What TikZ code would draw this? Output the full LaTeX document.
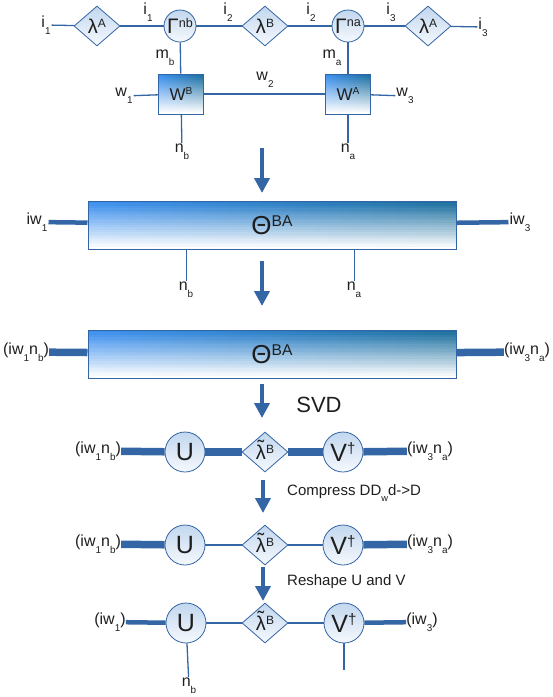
\documentclass[tikz,border=0pt]{standalone}
\usepackage{fontspec}
\setmainfont{Liberation Sans}
\usepackage{graphicx}
\usepackage{tikz}
\usetikzlibrary{arrows.meta,shapes.geometric,calc}
\definecolor{lineblue}{HTML}{3465A4}
\definecolor{boxl}{HTML}{3B8FF0}
\definecolor{boxr}{HTML}{1A6E9C}
\definecolor{nodetop}{HTML}{C2D7EE}
\definecolor{nodebot}{HTML}{F6F9FD}
\definecolor{txt}{HTML}{1E1E1E}
\newcommand\sub[1]{\raisebox{-0.42em}{\scalebox{0.62}{#1}}}
\newcommand\supr[1]{\raisebox{0.3em}{\scalebox{0.6}{#1}}}
\newcommand\tlam{\ooalign{λ\cr\hidewidth\raisebox{0.22em}{\char"02DC}\hidewidth\cr}}
\tikzset{
  wire/.style={draw=lineblue, line width=1.3pt},
  bond/.style={draw=lineblue, line width=4.5pt},
  fatbond/.style={draw=lineblue, line width=7.5pt},
  bigarr/.style={-{Triangle[width=15pt,length=15pt]}, draw=lineblue, line width=4pt},
  lbl/.style={text=txt, font=\fontsize{16}{18}\selectfont, inner sep=1pt},
  note/.style={text=txt, font=\fontsize{15}{18}\selectfont, inner sep=0pt, anchor=west},
  diam/.style={diamond, draw=lineblue, line width=0.8pt, top color=nodetop,
               bottom color=nodebot, minimum width=46pt, minimum height=40pt,
               aspect=1.15, inner sep=0pt, text=txt, font=\fontsize{20}{20}\selectfont},
  circ/.style={circle, draw=lineblue, line width=0.8pt, top color=nodetop,
               bottom color=nodebot, minimum size=32pt, inner sep=0pt,
               text=txt, font=\fontsize{21}{21}\selectfont},
  bigcirc/.style={circ, minimum size=40pt, font=\fontsize{25}{25}\selectfont},
  % blue left to teal right, washed out to white towards the bottom
  gradbox/.style={draw=lineblue, line width=1pt, left color=boxl, right color=boxr,
                  inner sep=0pt, text=txt,
                  path picture={
                    \foreach \k [evaluate=\k as \op using \k/19] in {0,...,19}
                      \fill[white, fill opacity=\op]
                        ($(path picture bounding box.north west)!\k/20!(path picture bounding box.south west)$)
                        rectangle
                        ($(path picture bounding box.north east)!{(\k+1)/20}!(path picture bounding box.south east)$);
                  }},
  wbox/.style={gradbox, minimum width=45pt, minimum height=40pt,
               font=\fontsize{17}{17}\selectfont},
  thetabox/.style={gradbox, minimum width=368pt, minimum height=48pt,
                   font=\fontsize{26}{26}\selectfont},
}
\begin{document}
\begin{tikzpicture}[x=1pt,y=-1pt]
\useasboundingbox (0,0) rectangle (553,697);
% MPS with the MPO on top
\node[lbl] (i1a) at (46,25) {i\sub{1}};
\node[diam] (lamA) at (97,26) {λ\supr{A}};
\node[lbl] (i1b) at (148,12) {i\sub{1}};
\node[circ] (gamB) at (180,26) {Γ\supr{nb}};
\node[lbl] (i2a) at (228,12) {i\sub{2}};
\node[diam] (lamB) at (265,26) {λ\supr{B}};
\node[lbl] (i2b) at (311,12) {i\sub{2}};
\node[circ] (gamA) at (348,26) {Γ\supr{na}};
\node[lbl] (i3a) at (391,12) {i\sub{3}};
\node[diam] (lamA2) at (428,26) {λ\supr{A}};
\node[lbl] (i3b) at (483,27) {i\sub{3}};
\draw[wire] (i1a) -- (lamA);
\draw[wire] (lamA) -- (gamB);
\draw[wire] (gamB) -- (lamB);
\draw[wire] (lamB) -- (gamA);
\draw[wire] (gamA) -- (lamA2);
\draw[wire] (lamA2) -- (i3b);
\node[wbox] (WB) at (181,94) {W\supr{B}};
\node[wbox] (WA) at (348,94) {W\supr{A}};
\node[lbl] (mb) at (165,58) {m\sub{b}};
\node[lbl] (ma) at (332,58) {m\sub{a}};
\node[lbl] (w1) at (124,96) {w\sub{1}};
\node[lbl] (w2) at (265,80) {w\sub{2}};
\node[lbl] (w3) at (405,96) {w\sub{3}};
\node[lbl] (nb1) at (182,152) {n\sub{b}};
\node[lbl] (na1) at (348,152) {n\sub{a}};
\draw[wire] (gamB) -- (WB);
\draw[wire] (gamA) -- (WA);
\draw[wire] (w1) -- (WB);
\draw[wire] (WB) -- (WA);
\draw[wire] (WA) -- (w3);
\draw[wire] (WB) -- (nb1);
\draw[wire] (WA) -- (na1);
\coordinate (a1s) at (262,148);
\coordinate (a1e) at (262,193);
\draw[bigarr] (a1s) -- (a1e);
% contracted two-site tensor
\node[thetabox] (theta1) at (272,225) {Θ\supr{BA}};
\node[lbl] (iw1) at (37,222) {iw\sub{1}};
\node[lbl] (iw3) at (520,222) {iw\sub{3}};
\node[lbl] (nb2) at (186,290) {n\sub{b}};
\node[lbl] (na2) at (354,290) {n\sub{a}};
\draw[bond] (iw1) -- (theta1);
\draw[bond] (theta1) -- (iw3);
\draw[wire, line width=0.9pt] (nb2) -- (nb2 |- theta1.south);
\draw[wire, line width=0.9pt] (na2) -- (na2 |- theta1.south);
\coordinate (a2s) at (262,261);
\coordinate (a2e) at (262,306);
\draw[bigarr] (a2s) -- (a2e);
% reshaped into a matrix
\node[thetabox] (theta2) at (272,354) {Θ\supr{BA}};
\node[lbl, inner sep=0pt] (L2) at (26,352) {(iw\sub{1}n\sub{b})};
\node[lbl, inner sep=0pt] (R2) at (527,352) {(iw\sub{3}n\sub{a})};
\draw[fatbond] (L2) -- (theta2);
\draw[fatbond] (theta2) -- (R2);
\coordinate (a3s) at (262,384);
\coordinate (a3e) at (262,418);
\draw[bigarr] (a3s) -- (a3e);
\node[lbl, font=\fontsize{22}{22}\selectfont] (svd) at (319,405) {SVD};
% after the SVD
\node[lbl, inner sep=0pt] (L3) at (98,451) {(iw\sub{1}n\sub{b})};
\node[bigcirc] (U3) at (185,452) {U};
\node[diam] (lt3) at (265,452) {\tlam\supr{B}};
\node[bigcirc] (V3) at (343,452) {V\supr{†}};
\node[lbl, inner sep=0pt] (R3) at (430,451) {(iw\sub{3}n\sub{a})};
\draw[fatbond] (L3) -- (U3);
\draw[fatbond] (U3) -- (lt3);
\draw[fatbond] (lt3) -- (V3);
\draw[fatbond] (V3) -- (R3);
\coordinate (a4s) at (263,480);
\coordinate (a4e) at (263,513);
\draw[bigarr] (a4s) -- (a4e);
\node[note] (cmp) at (287,493) {Compress DD\sub{w}d->D};
% truncated bond
\node[lbl, inner sep=0pt] (L4) at (98,544) {(iw\sub{1}n\sub{b})};
\node[bigcirc] (U4) at (185,545) {U};
\node[diam] (lt4) at (265,545) {\tlam\supr{B}};
\node[bigcirc] (V4) at (343,545) {V\supr{†}};
\node[lbl, inner sep=0pt] (R4) at (430,544) {(iw\sub{3}n\sub{a})};
\draw[fatbond] (L4) -- (U4);
\draw[wire] (U4) -- (lt4);
\draw[wire] (lt4) -- (V4);
\draw[fatbond] (V4) -- (R4);
\coordinate (a5s) at (263,567);
\coordinate (a5e) at (263,601);
\draw[bigarr] (a5s) -- (a5e);
\node[note] (rsh) at (287,582) {Reshape U and V};
% back to site tensors
\node[lbl, inner sep=0pt] (L5) at (110,622) {(iw\sub{1})};
\node[bigcirc] (U5) at (186,623) {U};
\node[diam] (lt5) at (265,623) {\tlam\supr{B}};
\node[bigcirc] (V5) at (344,623) {V\supr{†}};
\node[lbl, inner sep=0pt] (R5) at (422,622) {(iw\sub{3})};
\node[lbl] (nb5) at (189,686) {n\sub{b}};
\coordinate (vend) at (344,670);
\draw[bond] (L5) -- (U5);
\draw[wire] (U5) -- (lt5);
\draw[wire] (lt5) -- (V5);
\draw[bond] (V5) -- (R5);
\draw[wire] (U5) -- (nb5);
\draw[wire] (V5) -- (vend);
\end{tikzpicture}
\end{document}
